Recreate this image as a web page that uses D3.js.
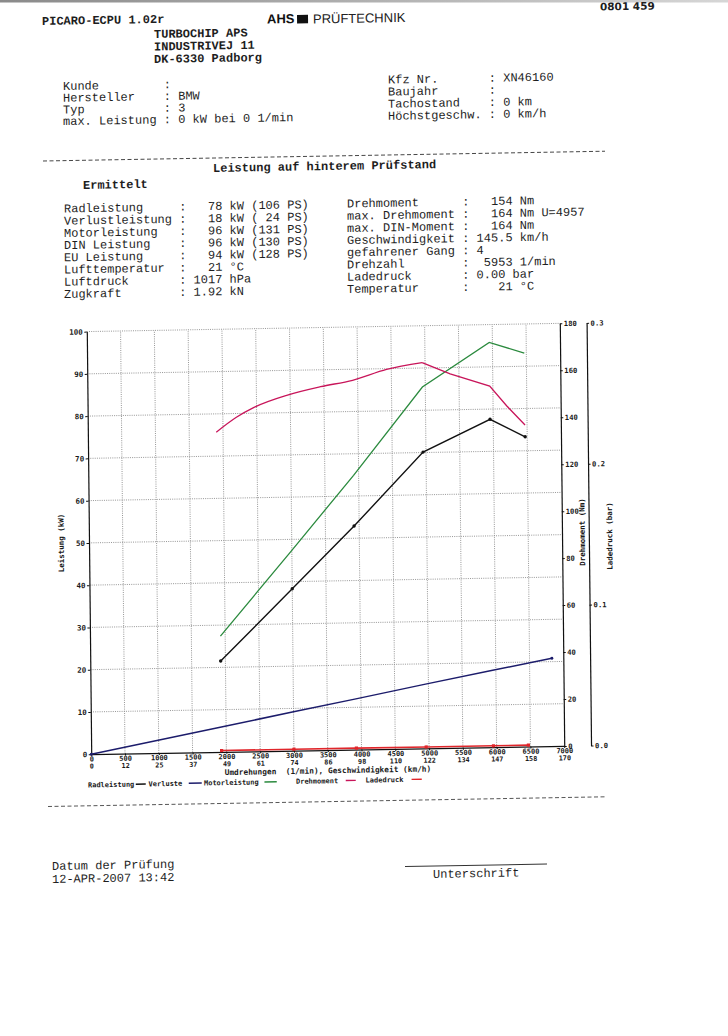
<!DOCTYPE html>
<html><head><meta charset="utf-8">
<script src="https://cdn.jsdelivr.net/npm/d3@7"></script>
<style>html,body{margin:0;padding:0;background:#fff;} svg{display:block;}</style>
</head><body>
<script>
// ---------------- data ----------------
const rpmTicks = [0,500,1000,1500,2000,2500,3000,3500,4000,4500,5000,5500,6000,6500,7000];
const speedLabels = [0,12,25,37,49,61,74,86,98,110,122,134,147,158,170];
const kwTicks = [0,10,20,30,40,50,60,70,80,90,100];
const torqueTicks = [0,20,40,60,80,100,120,140,160,180];
const boostTicks = [0.0,0.1,0.2,0.3];

const pointRpm      = [1930, 3000, 3925, 4957, 5953, 6470];
const radleistung   = [21.5, 38.3, 52.9, 70.1, 77.6, 73.3];
const motorleistung = [27.4, 47.4, 64.9, 85.5, 95.8, 93.1];
const ladedruck     = [0.001, 0.001, 0.001, 0.001, 0.001, 0.001];
const verlusteRpm   = [0, 1930, 3000, 3925, 4957, 5953, 6830];
const verluste      = [0, 5.9, 9.2, 12.0, 15.2, 18.2, 20.8];
const torqueRpm     = [1900, 2200, 2470, 2960, 3450, 3925, 4430, 4957, 5370, 5953, 6200, 6470];
const drehmoment    = [136.2, 142.4, 146.6, 151.5, 154.8, 157.3, 161.7, 164.3, 159.3, 153.8, 145.3, 137.0];

const legendNames  = ["Radleistung","Verluste","Motorleistung","Drehmoment","Ladedruck"];
const legendColors = ["#111111","#1c1c6b","#2b8a3e","#c8155a","#e0262b"];

const headerLeft  = ["Kunde         :","Hersteller    : BMW","Typ           : 3","max. Leistung : 0 kW bei 0 1/min"];
const headerRight = ["Kfz Nr.       : XN46160","Baujahr       :","Tachostand    : 0 km","Höchstgeschw. : 0 km/h"];
const resultsLeft = [
  "Radleistung     :   78 kW (106 PS)",
  "Verlustleistung :   18 kW ( 24 PS)",
  "Motorleistung   :   96 kW (131 PS)",
  "DIN Leistung    :   96 kW (130 PS)",
  "EU Leistung     :   94 kW (128 PS)",
  "Lufttemperatur  :   21 °C",
  "Luftdruck       : 1017 hPa",
  "Zugkraft        : 1.92 kN"];
const resultsRight = [
  "Drehmoment      :   154 Nm",
  "max. Drehmoment :   164 Nm U=4957",
  "max. DIN-Moment :   164 Nm",
  "Geschwindigkeit : 145.5 km/h",
  "gefahrener Gang : 4",
  "Drehzahl        :  5953 1/min",
  "Ladedruck       : 0.00 bar",
  "Temperatur      :    21 °C"];

// ---------------- page ----------------
const W = 728, H = 1036;
const MONO = "'Liberation Mono','DejaVu Sans Mono',monospace";
const AXF  = "'DejaVu Sans Mono',monospace";
const INK = "#1e1e1e";

const svg = d3.select("body").append("svg").attr("width", W).attr("height", H);
svg.append("rect").attr("width", W).attr("height", H).attr("fill", "#fff");
const defs = svg.append("defs");
const gr = defs.append("linearGradient").attr("id","edge").attr("x1","0").attr("x2","1");
gr.append("stop").attr("offset","0").attr("stop-color","#8a8a8a");
gr.append("stop").attr("offset","1").attr("stop-color","#d6d6d6");
svg.append("rect").attr("width", W).attr("height", 2.5).attr("fill","url(#edge)");

// scanned page is slightly rotated / sheared
const CX = 364, CY = 518, SKX = 0.0105, SKY = -0.0174;
const page = svg.append("g").attr("transform", `matrix(1,${SKY},${SKX},1,${-SKX*CY},${-SKY*CX})`);
function u(ox, oy){ let ux = ox, uy = oy; for (let i=0;i<5;i++){ ux = ox - SKX*(uy-CY); uy = oy - SKY*(ux-CX); } return [ux, uy]; }

function T(str, ox, oy, o = {}){
  const [ux, uy] = u(ox, oy);
  return page.append("text").attr("x", ux).attr("y", uy)
    .attr("xml:space","preserve").style("white-space","pre")
    .attr("font-family", o.ff || MONO).attr("font-size", o.fs || 12)
    .attr("font-weight", o.fw || "normal").attr("fill", o.fill || INK)
    .attr("text-anchor", o.anchor || "start").attr("letter-spacing", o.ls || 0)
    .text(str);
}

// header
T("0801 459", 600, 10.5, {ff:"'DejaVu Sans',sans-serif", fs:10.5, fw:"bold"});
T("PICARO-ECPU 1.02r", 42, 25, {fw:"bold"});
T("AHS", 267, 23.5, {ff:"'Liberation Sans',Arial,sans-serif", fs:13, fw:"bold", fill:"#111"});
{ const [sx, sy] = u(297, 15); page.append("rect").attr("x", sx).attr("y", sy).attr("width", 11).attr("height", 8.5).attr("fill", "#111"); }
T("PRÜFTECHNIK", 313, 23.5, {ff:"'Liberation Sans',Arial,sans-serif", fs:13, fill:"#222"});
T("TURBOCHIP APS", 154, 38, {fw:"bold"});
T("INDUSTRIVEJ 11", 154, 50.5, {fw:"bold"});
T("DK-6330 Padborg", 154, 63, {fw:"bold"});
headerLeft.forEach((s,i) => T(s, 63, 90 + i*11.7));
headerRight.forEach((s,i) => T(s, 388, 83.5 + i*12.1));

// dashed separator
{ const [x1,y1] = u(43,161); page.append("line").attr("x1", x1).attr("x2", x1+562).attr("y1", y1).attr("y2", y1)
  .attr("stroke","#333").attr("stroke-width",0.9).attr("stroke-dasharray","4,2.5"); }

T("Leistung auf hinterem Prüfstand", 213, 172, {fw:"bold"});
T("Ermittelt", 83, 189, {fw:"bold"});
resultsLeft.forEach((s,i) => T(s, 64, 212.5 + i*12.2));
resultsRight.forEach((s,i) => T(s, 347, 207.5 + i*12.2));

// ---------------- chart ----------------
const L = 88.8, R = 561.8, TOP = 326.8, B = 749.4, BX = 588.6;
const x = d3.scaleLinear().domain([0,7000]).range([L,R]);
const yKW = d3.scaleLinear().domain([0,100]).range([B,TOP]);
const yNm = d3.scaleLinear().domain([0,180]).range([B,TOP]);
const yBar = d3.scaleLinear().domain([0,0.3]).range([B,TOP]);

const ch = page.append("g");
// grid
ch.append("g").selectAll("line").data(rpmTicks.filter(v => v>0 && v<7000)).join("line")
  .attr("x1", d=>x(d)).attr("x2", d=>x(d)).attr("y1", B).attr("y2", TOP)
  .attr("stroke","#8c8c8c").attr("stroke-width",0.9).attr("stroke-dasharray","1,1.2");
ch.append("g").selectAll("line").data(kwTicks.filter(v => v>0)).join("line")
  .attr("x1", L).attr("x2", R).attr("y1", d=>yKW(d)).attr("y2", d=>yKW(d))
  .attr("stroke","#8c8c8c").attr("stroke-width",0.9).attr("stroke-dasharray","1,1.2");

function styleAxis(g, fs){
  g.attr("font-family", AXF).attr("font-size", fs).attr("font-weight","bold");
  g.select(".domain").attr("stroke","#111").attr("stroke-width",1.2);
  g.selectAll(".tick line").attr("stroke","#111").attr("stroke-width",1);
  g.selectAll("text").attr("fill","#1a1a1a");
}
const gl = ch.append("g").attr("transform",`translate(${L},0)`)
  .call(d3.axisLeft(yKW).tickValues(kwTicks).tickFormat(d3.format("d")).tickSizeInner(2.5).tickSizeOuter(0).tickPadding(1.5));
styleAxis(gl, 7.5);
const gb = ch.append("g").attr("transform",`translate(0,${B})`)
  .call(d3.axisBottom(x).tickValues(rpmTicks).tickFormat(d3.format("d")).tickSizeInner(2).tickSizeOuter(0));
styleAxis(gb, 7);
gb.selectAll("text").attr("y", 7.2).attr("dy", 0);
const gs = ch.append("g").attr("transform",`translate(0,${B})`)
  .call(d3.axisBottom(x).tickValues(rpmTicks).tickFormat((d,i)=>speedLabels[i]).tickSize(0));
styleAxis(gs, 6.8);
gs.select(".domain").remove();
gs.selectAll("text").attr("y", 14.4).attr("dy", 0);
const gr1 = ch.append("g").attr("transform",`translate(${R},0)`)
  .call(d3.axisRight(yNm).tickValues(torqueTicks).tickFormat(d3.format("d")).tickSizeInner(2.5).tickSizeOuter(0).tickPadding(1.5));
styleAxis(gr1, 7.2);
const gr2 = ch.append("g").attr("transform",`translate(${BX},0)`)
  .call(d3.axisRight(yBar).tickValues(boostTicks).tickFormat(d3.format(".1f")).tickSizeInner(2.5).tickSizeOuter(0).tickPadding(1.5));
styleAxis(gr2, 7.2);

// axis titles
function vt(str, ox, oy){
  const t = T(str, ox, oy, {ff:AXF, fs:7.5, fw:"bold", anchor:"middle", fill:"#1a1a1a"});
  t.attr("transform", `rotate(-90,${t.attr("x")},${t.attr("y")})`);
}
vt("Leistung (kW)", 63.8, 543);
vt("Drehmoment (Nm)", 584.8, 532);
vt("Ladedruck (bar)", 612.2, 536);
ch.append("text").attr("x", x(3500)).attr("y", B + 23.2).attr("text-anchor","middle")
  .attr("xml:space","preserve").style("white-space","pre")
  .attr("font-family", AXF).attr("font-size", 7.8).attr("font-weight","bold").attr("fill","#1a1a1a")
  .text("Umdrehungen  (1/min), Geschwindigkeit (km/h)");

// series
const lineKW = d3.line().x(d=>x(d[0])).y(d=>yKW(d[1]));
const lineNmSmooth = d3.line().x(d=>x(d[0])).y(d=>yNm(d[1])).curve(d3.curveMonotoneX);
const lineNm = d3.line().x(d=>x(d[0])).y(d=>yNm(d[1]));
const lineBar = d3.line().x(d=>x(d[0])).y(d=>yBar(d[1]));
const vData = verlusteRpm.map((r,i)=>[r, verluste[i]]);
const rData = pointRpm.map((r,i)=>[r, radleistung[i]]);
const mData = pointRpm.map((r,i)=>[r, motorleistung[i]]);
const tData = torqueRpm.map((r,i)=>[r, drehmoment[i]]);
const bData = pointRpm.map((r,i)=>[r, ladedruck[i]]);
const peakIdx = d3.maxIndex(drehmoment);

ch.append("path").attr("d", lineKW(vData)).attr("fill","none").attr("stroke", legendColors[1]).attr("stroke-width",1.5);
ch.append("path").attr("d", lineKW(mData)).attr("fill","none").attr("stroke", legendColors[2]).attr("stroke-width",1.3);
ch.append("path").attr("d", lineNmSmooth(tData.slice(0, peakIdx+1))).attr("fill","none").attr("stroke", legendColors[3]).attr("stroke-width",1.3);
ch.append("path").attr("d", lineNm(tData.slice(peakIdx))).attr("fill","none").attr("stroke", legendColors[3]).attr("stroke-width",1.3);
ch.append("path").attr("d", lineKW(rData)).attr("fill","none").attr("stroke", legendColors[0]).attr("stroke-width",1.4);
ch.append("g").selectAll("circle").data(rData).join("circle")
  .attr("cx", d=>x(d[0])).attr("cy", d=>yKW(d[1])).attr("r", 1.7).attr("fill", "#111");
ch.append("g").selectAll("circle").data([vData[0], vData[vData.length-1]]).join("circle")
  .attr("cx", d=>x(d[0])).attr("cy", d=>yKW(d[1])).attr("r", 1.5).attr("fill", legendColors[1]);
ch.append("path").attr("d", lineBar(bData)).attr("fill","none").attr("stroke", legendColors[4]).attr("stroke-width",1.6);
ch.append("g").selectAll("rect").data(bData).join("rect")
  .attr("x", d=>x(d[0])-1.6).attr("y", d=>yBar(d[1])-1.6).attr("width",3.2).attr("height",3.2).attr("fill", legendColors[4]);

// legend
const legTextX = [85.2, 145.8, 201.2, 293.2, 362.8];
const legLine  = [[133,143],[186,199],[261.7,274],[343,353],[408.8,419]];
const ly = B + 33.2;
legendNames.forEach((n,i) => {
  ch.append("text").attr("x", legTextX[i]).attr("y", ly).attr("font-family", AXF).attr("font-size", 7)
    .attr("font-weight","bold").attr("fill","#1a1a1a").text(n);
  ch.append("line").attr("x1", legLine[i][0]).attr("x2", legLine[i][1]).attr("y1", ly-2.4).attr("y2", ly-2.4)
    .attr("stroke", legendColors[i]).attr("stroke-width", 1.4);
});

// lower separator & footer
{ const [x1,y1] = u(48,806.5); page.append("line").attr("x1", x1).attr("x2", x1+557).attr("y1", y1).attr("y2", y1)
  .attr("stroke","#444").attr("stroke-width",0.9).attr("stroke-dasharray","4,2.5"); }
T("Datum der Prüfung", 52, 870);
T("12-APR-2007 13:42", 52, 883);
{ const [x1,y1] = u(405,866.5); page.append("line").attr("x1", x1).attr("x2", x1+142).attr("y1", y1).attr("y2", y1)
  .attr("stroke","#333").attr("stroke-width",1); }
T("Unterschrift", 433, 878);
</script>
</body></html>
